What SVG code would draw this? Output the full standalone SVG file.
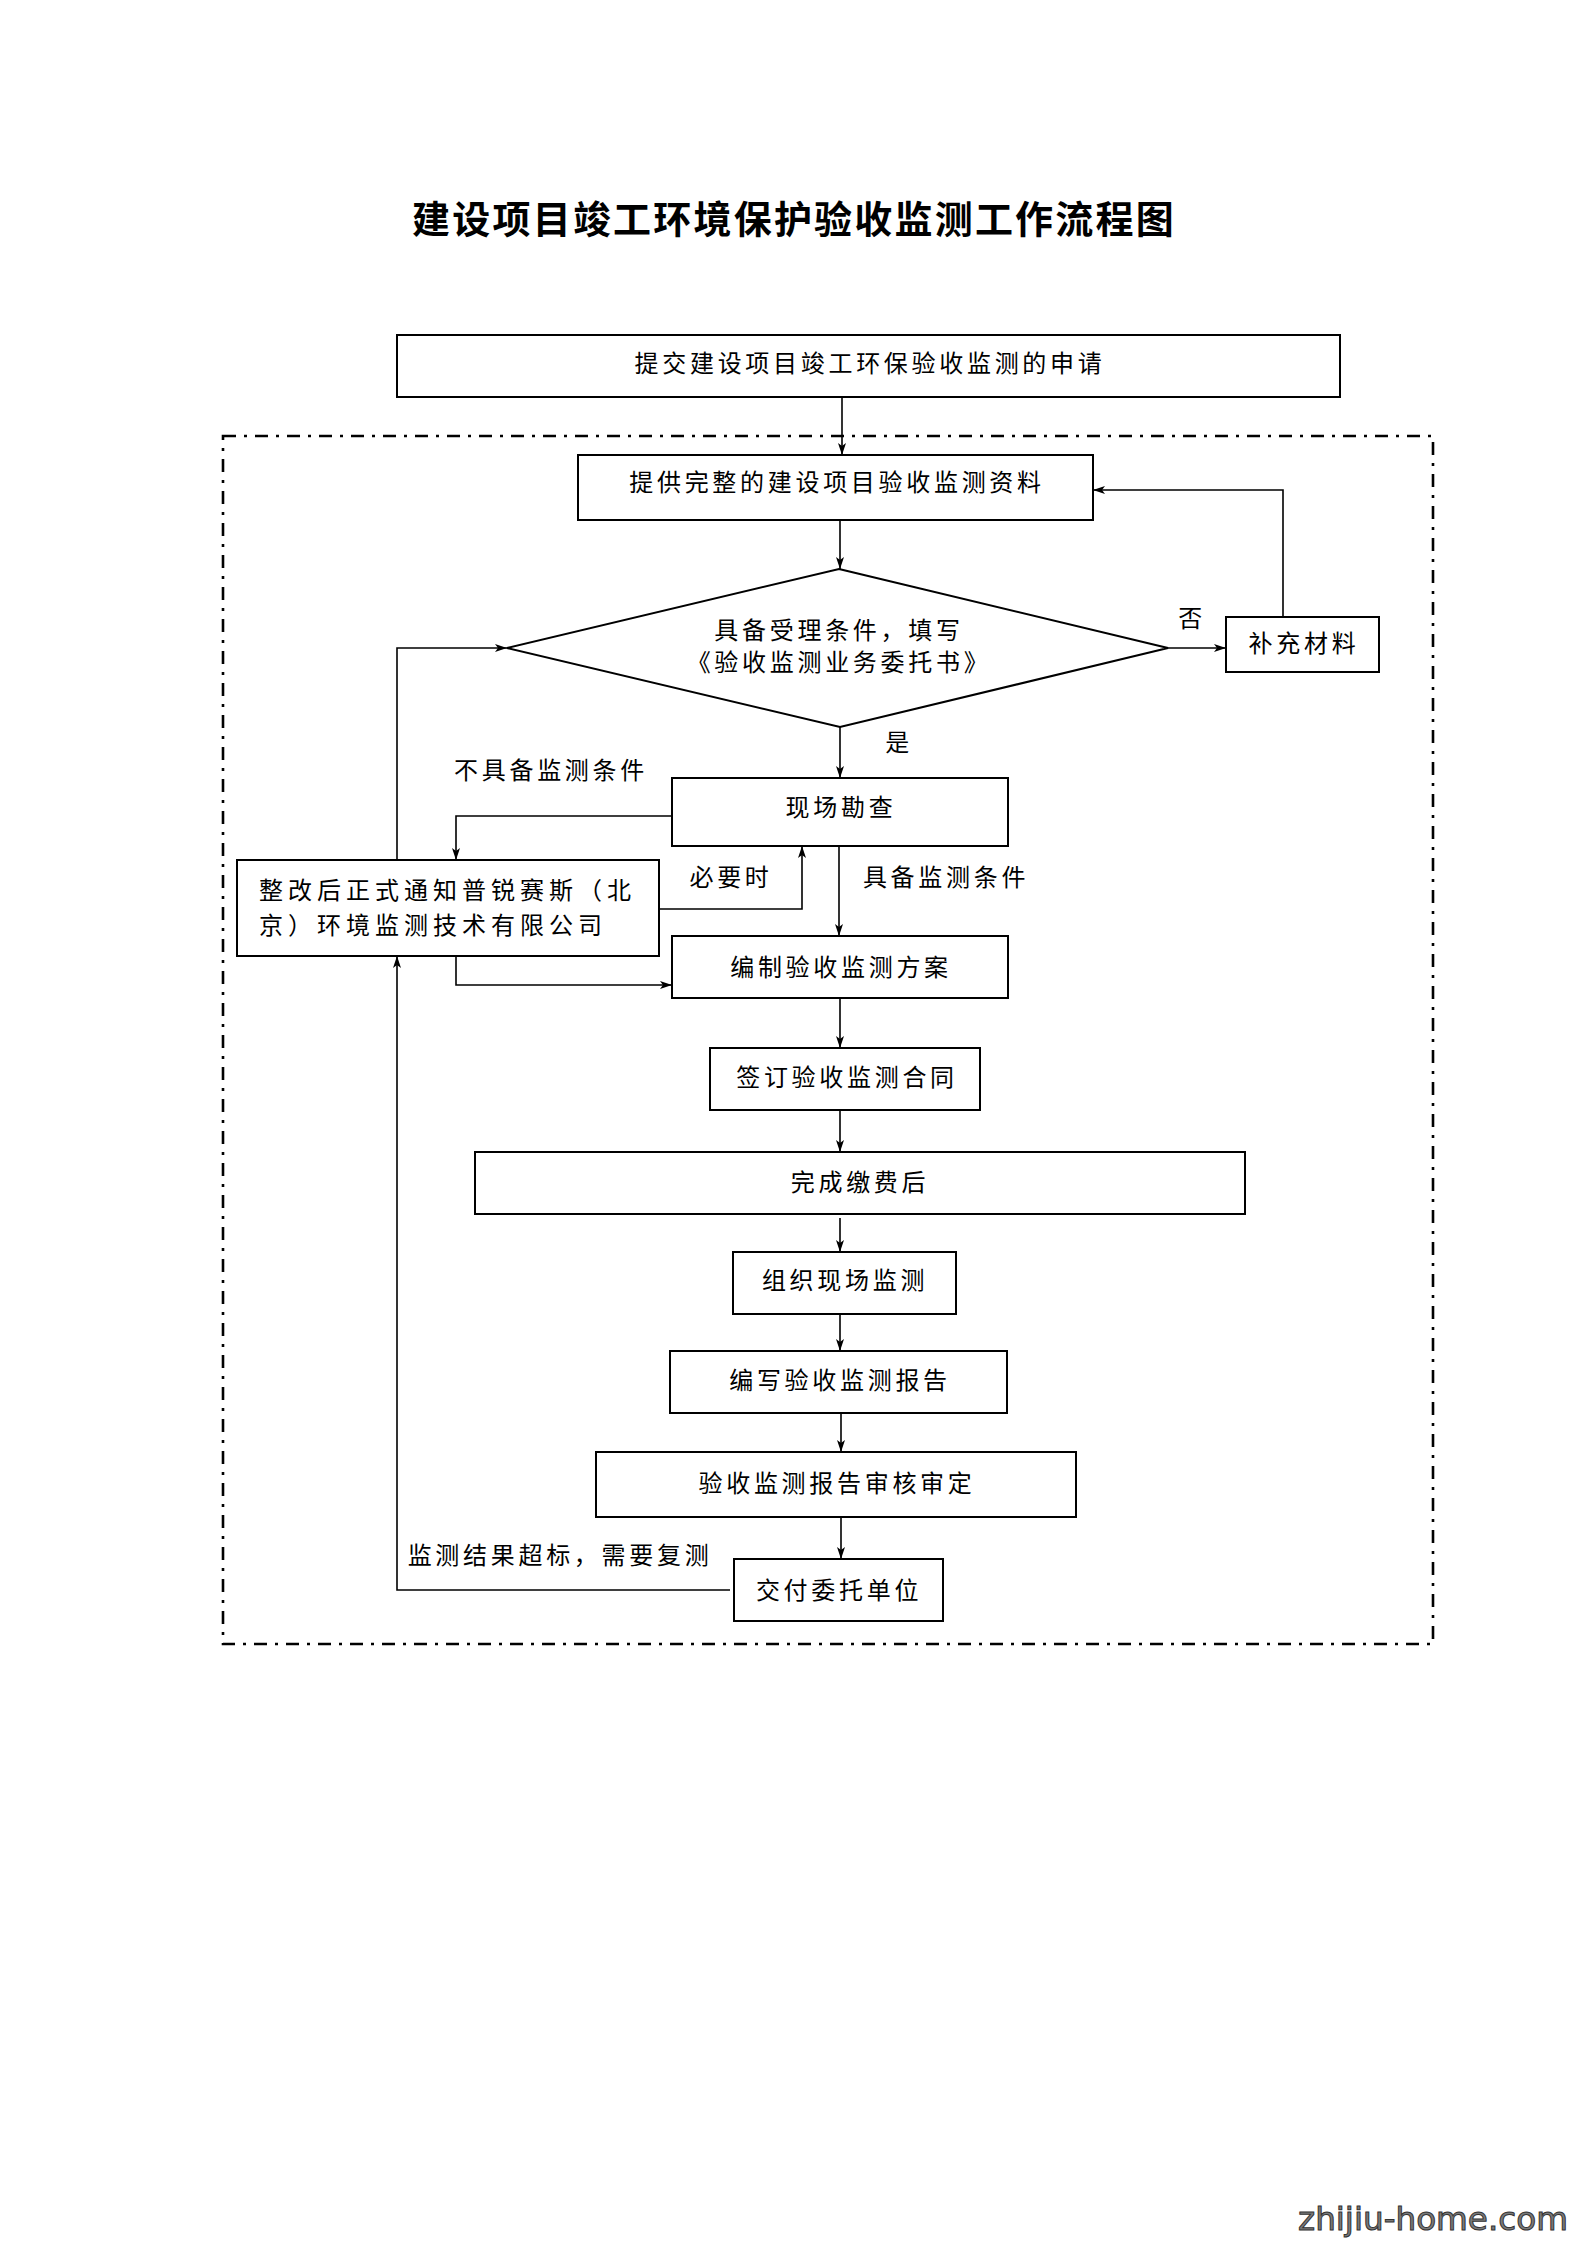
<svg xmlns="http://www.w3.org/2000/svg" width="1587" height="2245" viewBox="0 0 1587 2245">
<style>
.bg{fill:#ffffff}
.box{fill:#ffffff;stroke:#000;stroke-width:2}
.frame{fill:none;stroke:#000;stroke-width:2.6;stroke-dasharray:13 8 3 8}
.ln{fill:none;stroke:#000;stroke-width:1.6}
.t{font-family:"Noto Sans CJK SC","Noto Sans CJK TC",sans-serif;font-size:24px;fill:#000;letter-spacing:3.7px;dominant-baseline:central}
.m{text-anchor:middle}
.title{font-family:"Noto Sans CJK SC",sans-serif;font-size:38px;font-weight:bold;fill:#000;letter-spacing:2.2px;text-anchor:middle;dominant-baseline:central}
.wm{font-family:"DejaVu Sans",sans-serif;font-size:32px;fill:#7a7a7a;stroke:#333;stroke-width:1}
</style>
<defs>
<marker id="ar" viewBox="0 0 12 8" refX="12" refY="4" markerWidth="12" markerHeight="8" markerUnits="userSpaceOnUse" orient="auto">
<path d="M0,0 L12,4 L0,8 L3,4 z" fill="#000"/>
</marker>
</defs>
<rect class="bg" x="0" y="0" width="1587" height="2245"/>
<text class="title" x="794" y="216">建设项目竣工环境保护验收监测工作流程图</text>
<rect class="frame" x="223" y="436" width="1210" height="1208"/>

<g id="connectors">
<path class="ln" d="M842,397 V455" marker-end="url(#ar)"/>
<path class="ln" d="M840,520 V569" marker-end="url(#ar)"/>
<path class="ln" d="M1168,648 H1226" marker-end="url(#ar)"/>
<path class="ln" d="M1283,617 V490 H1093" marker-end="url(#ar)"/>
<path class="ln" d="M840,727 V778" marker-end="url(#ar)"/>
<path class="ln" d="M672,816 H456 V860" marker-end="url(#ar)"/>
<path class="ln" d="M659,909 H802 V846" marker-end="url(#ar)"/>
<path class="ln" d="M839,846 V936" marker-end="url(#ar)"/>
<path class="ln" d="M456,947 V985 H672" marker-end="url(#ar)"/>
<path class="ln" d="M397,860 V648 H507" marker-end="url(#ar)"/>
<path class="ln" d="M730,1590 H397 V956" marker-end="url(#ar)"/>
<path class="ln" d="M840,998 V1048" marker-end="url(#ar)"/>
<path class="ln" d="M840,1110 V1152" marker-end="url(#ar)"/>
<path class="ln" d="M840,1218 V1252" marker-end="url(#ar)"/>
<path class="ln" d="M840,1314 V1351" marker-end="url(#ar)"/>
<path class="ln" d="M841,1413 V1452" marker-end="url(#ar)"/>
<path class="ln" d="M841,1517 V1559" marker-end="url(#ar)"/>
<text class="t m" x="1192" y="616">否</text>
<text class="t m" x="899" y="740">是</text>
<text class="t m" x="551" y="768">不具备监测条件</text>
<text class="t m" x="731" y="875">必要时</text>
<text class="t m" x="946" y="875">具备监测条件</text>
<text class="t m" x="560" y="1553">监测结果超标，需要复测</text>
</g>

<g id="n1">
<rect class="box" x="397" y="335" width="943" height="62"/>
<text class="t m" x="870" y="361">提交建设项目竣工环保验收监测的申请</text>
</g>
<g id="n2">
<rect class="box" x="578" y="455" width="515" height="65"/>
<text class="t m" x="837" y="480">提供完整的建设项目验收监测资料</text>
</g>
<g id="n3">
<polygon class="box" points="839,569 1168,648 840,727 507,648"/>
<text class="t m" x="839" y="628">具备受理条件，填写</text>
<text class="t m" x="839" y="660">《验收监测业务委托书》</text>
</g>
<g id="n4">
<rect class="box" x="1226" y="617" width="153" height="55"/>
<text class="t m" x="1304" y="641">补充材料</text>
</g>
<g id="n5">
<rect class="box" x="672" y="778" width="336" height="68"/>
<text class="t m" x="841" y="805">现场勘查</text>
</g>
<g id="n6">
<rect class="box" x="237" y="860" width="422" height="96"/>
<text class="t" x="259" y="888" style="letter-spacing:5px">整改后正式通知普锐赛斯（北</text>
<text class="t" x="259" y="923" style="letter-spacing:5px">京）环境监测技术有限公司</text>
</g>
<g id="n7">
<rect class="box" x="672" y="936" width="336" height="62"/>
<text class="t m" x="841" y="965">编制验收监测方案</text>
</g>
<g id="n8">
<rect class="box" x="710" y="1048" width="270" height="62"/>
<text class="t m" x="847" y="1075">签订验收监测合同</text>
</g>
<g id="n9">
<rect class="box" x="475" y="1152" width="770" height="62"/>
<text class="t m" x="860" y="1180">完成缴费后</text>
</g>
<g id="n10">
<rect class="box" x="733" y="1252" width="223" height="62"/>
<text class="t m" x="845" y="1278">组织现场监测</text>
</g>
<g id="n11">
<rect class="box" x="670" y="1351" width="337" height="62"/>
<text class="t m" x="840" y="1378">编写验收监测报告</text>
</g>
<g id="n12">
<rect class="box" x="596" y="1452" width="480" height="65"/>
<text class="t m" x="837" y="1481">验收监测报告审核审定</text>
</g>
<g id="n13">
<rect class="box" x="734" y="1559" width="209" height="62"/>
<text class="t m" x="839" y="1588">交付委托单位</text>
</g>
<text class="wm" x="1298" y="2230" textLength="270" lengthAdjust="spacingAndGlyphs">zhijiu-home.com</text>
</svg>
